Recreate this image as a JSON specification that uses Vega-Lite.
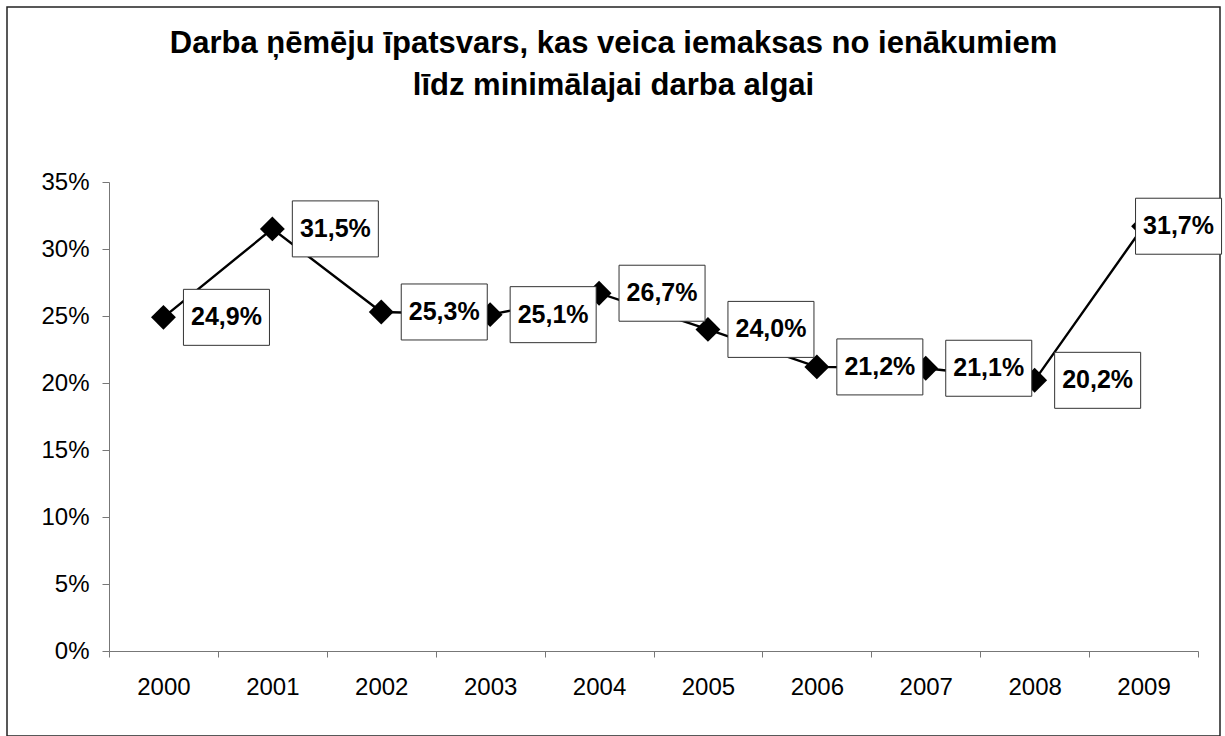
{
  "$schema": "https://vega.github.io/schema/vega-lite/v6.json",
  "width": 1213,
  "height": 729,
  "autosize": {"type": "none"},
  "padding": {"left": 7, "top": 7, "right": 5, "bottom": 0},
  "background": "#ffffff",
  "config": {
    "locale": {"number": {"decimal": ",", "thousands": " ", "grouping": [3], "currency": ["", ""]}},
    "view": {"stroke": "#222222", "strokeWidth": 1.5},
    "font": "Liberation Sans"
  },
  "title": {
    "text": ["Darba ņēmēju īpatsvars, kas veica iemaksas no ienākumiem", "līdz minimālajai darba algai"],
    "fontSize": 31,
    "fontWeight": "bold",
    "font": "Liberation Sans",
    "color": "#000000",
    "anchor": "middle",
    "frame": "group",
    "offset": -126,
    "lineHeight": 42,
    "baseline": "bottom"
  },
  "data": {
    "values": [
      {"year": "2000", "share": 0.249},
      {"year": "2001", "share": 0.315},
      {"year": "2002", "share": 0.253},
      {"year": "2003", "share": 0.251},
      {"year": "2004", "share": 0.267},
      {"year": "2005", "share": 0.240},
      {"year": "2006", "share": 0.212},
      {"year": "2007", "share": 0.211},
      {"year": "2008", "share": 0.202},
      {"year": "2009", "share": 0.317}
    ]
  },
  "encoding": {
    "x": {
      "field": "year",
      "type": "ordinal",
      "scale": {"type": "band", "range": [102, 1191], "paddingInner": 0, "paddingOuter": 0},
      "axis": {
        "title": null,
        "labelAngle": 0,
        "tickBand": "extent",
        "tickSize": 6,
        "domainColor": "#777777",
        "tickColor": "#777777",
        "labelFontSize": 24,
        "labelColor": "#000000",
        "labelFont": "Liberation Sans",
        "labelPadding": 18,
        "grid": false,
        "offset": -85
      }
    },
    "y": {
      "field": "share",
      "type": "quantitative",
      "scale": {"domain": [0, 0.35], "range": [644, 175], "nice": false, "zero": true},
      "axis": {
        "title": null,
        "values": [0, 0.05, 0.1, 0.15, 0.2, 0.25, 0.3, 0.35],
        "format": ".0%",
        "tickSize": 7,
        "labelFontSize": 24,
        "labelColor": "#000000",
        "labelFont": "Liberation Sans",
        "labelPadding": 13,
        "domainColor": "#777777",
        "tickColor": "#777777",
        "grid": false,
        "offset": -102
      }
    }
  },
  "layer": [
    {"mark": {"type": "line", "color": "#000000", "strokeWidth": 2.4}},
    {"mark": {"type": "point", "shape": "diamond", "filled": true, "color": "#000000", "size": 620, "opacity": 1}},
    {
      "transform": [{"filter": "datum.year != '2009'"}],
      "mark": {"type": "point", "shape": "M0.714,-1L3.786,-1L3.786,1L0.714,1Z", "size": 3136, "filled": true, "fill": "#ffffff", "stroke": "#333333", "strokeWidth": 1, "opacity": 1}
    },
    {
      "transform": [{"filter": "datum.year == '2009'"}],
      "mark": {"type": "point", "shape": "M-0.286,-1L2.786,-1L2.786,1L-0.286,1Z", "size": 3136, "filled": true, "fill": "#ffffff", "stroke": "#333333", "strokeWidth": 1, "opacity": 1}
    },
    {
      "transform": [{"filter": "datum.year != '2009'"}],
      "mark": {"type": "text", "dx": 63, "fontSize": 25, "fontWeight": "bold", "align": "center", "baseline": "middle", "color": "#000000"},
      "encoding": {"text": {"field": "share", "type": "quantitative", "format": ".1%"}}
    },
    {
      "transform": [{"filter": "datum.year == '2009'"}],
      "mark": {"type": "text", "dx": 35, "fontSize": 25, "fontWeight": "bold", "align": "center", "baseline": "middle", "color": "#000000"},
      "encoding": {"text": {"field": "share", "type": "quantitative", "format": ".1%"}}
    }
  ]
}
